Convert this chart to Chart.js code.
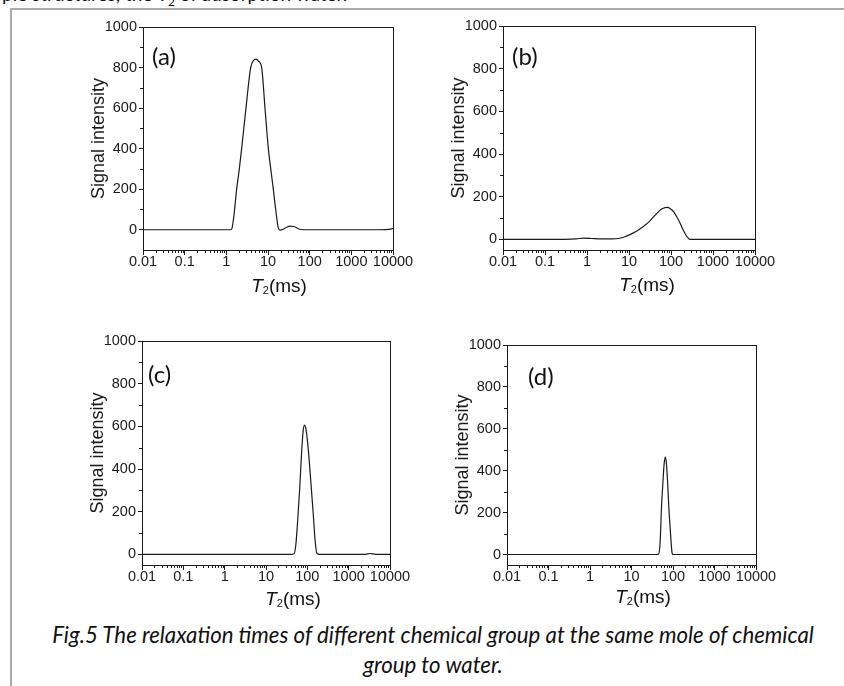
<!DOCTYPE html>
<html>
<head>
<meta charset="utf-8">
<script src="https://cdn.jsdelivr.net/npm/chart.js@4"></script>
<style>
  body { margin: 0; background: #fff; width: 844px; height: 686px; overflow: hidden; position: relative; font-family: "Liberation Sans", Arial, sans-serif; }
  .frame { position: absolute; left: 10px; top: 8px; width: 900px; height: 800px; border-left: 2px solid #ababab; border-top: 2px solid #ababab; }
  .topline { position: absolute; left: 2px; top: -16px; font: 19px Lato, sans-serif; line-height: 20px; white-space: nowrap; color: #111; }
  .topline sub { font-size: 12px; }
  canvas { position: absolute; }
  .tag { position: absolute; font: 24px Lato, sans-serif; color: #111; line-height: 1; transform: translateY(-50%); }
  .xt { position: absolute; font: 19px "Liberation Sans", Arial, sans-serif; color: #111; transform: translate(-50%, -50%); white-space: nowrap; }
  .xt sub { font-size: 11px; vertical-align: baseline; position: relative; top: 2px; }
  .cap { position: absolute; left: 0; width: 866px; top: 620px; text-align: center; font: italic 20px Lato, sans-serif; line-height: 30px; color: #111; }
</style>
</head>
<body>
<div class="frame"></div>
<div class="topline">ple structures, the T<sub>2</sub> of adsorption water.</div>
<div class="cap"><span id="cap1">Fig.5 The relaxation times of different chemical group at the same mole of chemical</span><br>group to water.</div>
<script>
// T2 (ms) vs signal intensity
const t2A = [0.01, 0.1, 0.5, 1, 1.2, 1.34, 1.5, 1.77, 2.05, 2.33, 2.96, 3.84, 4.5, 5.15, 5.9, 7.05, 8.47, 10.2, 11.8, 13.4, 15.5, 17.7, 19.5, 23, 28, 34, 42, 52, 62, 80, 200, 1000, 5000, 8000, 10000];
const sigA = [0, 0, 0, 0, 0, 3, 60, 200, 300, 400, 600, 800, 835, 842, 832, 800, 600, 400, 290, 200, 90, 8, -2, 2, 12, 18, 16, 6, 1, 0, 0, 0, 0, 2, 6];

const t2B = [0.01, 0.3, 0.55, 0.85, 1.3, 2.2, 4, 6, 8, 10.5, 15, 22, 32, 46, 60, 72, 82, 95, 115, 135, 165, 195, 230, 270, 300, 1000, 10000];
const sigB = [0, 0, 2, 6, 4, 2, 2, 5, 12, 22, 38, 60, 88, 122, 142, 149, 150, 145, 130, 108, 75, 44, 18, 2, 0, 0, 0];

const t2C = [0.01, 1, 10, 40, 48, 53, 58, 65, 72, 79, 85, 91, 100, 110, 126, 140, 155, 170, 200, 1000, 2500, 3300, 4500, 10000];
const sigC = [0, 0, 0, 0, 3, 50, 150, 300, 464, 576, 606, 594, 538, 450, 300, 180, 60, 5, 0, 0, 0, 4, 0, 0];

const t2D = [0.01, 1, 10, 40, 45, 49, 53, 57, 61, 65, 69, 74, 79, 85, 90, 95, 100, 1000, 10000];
const sigD = [0, 0, 0, 0, 2, 60, 232, 340, 430, 465, 440, 350, 232, 133, 60, 8, 0, 0, 0];

const xTicks = [0.01, 0.1, 1, 10, 100, 1000, 10000];
const xTickLabels = ['0.01', '0.1', '1', '10', '100', '1000', '10000'];
const yTicks = [0, 200, 400, 600, 800, 1000];
const yMinor = [100, 300, 500, 700, 900];
const yMins = [-100, -50, -50, -50];
const panelTags = ['(a)', '(b)', '(c)', '(d)'];

const ink = '#1a1a1a';
const tickFont = { family: '"Liberation Sans", Arial, sans-serif', size: 14.5 };

// minor ticks + plot frame
const frameAndMinor = {
  id: 'frameAndMinor',
  afterDraw(chart) {
    const { ctx, chartArea: a, scales: { x, y } } = chart;
    ctx.save();
    ctx.strokeStyle = ink;
    ctx.lineWidth = 1;
    ctx.beginPath();
    xTicks.slice(0, -1).forEach(d => {
      for (let k = 2; k < 10; k++) {
        const px = Math.round(x.getPixelForValue(d * k)) + 0.5;
        ctx.moveTo(px, a.bottom);
        ctx.lineTo(px, a.bottom + 3);
      }
    });
    yMinor.forEach(v => {
      const py = Math.round(y.getPixelForValue(v)) + 0.5;
      ctx.moveTo(a.left - 3, py);
      ctx.lineTo(a.left, py);
    });
    ctx.stroke();
    ctx.strokeRect(Math.round(a.left) + 0.5, Math.round(a.top) + 0.5, Math.round(a.right - a.left), Math.round(a.bottom - a.top));
    ctx.restore();
  }
};

function makePanel(i, box, t2, sig) {
  const padL = 80, padT = 12, padR = 30, padB = 50;
  const c = document.createElement('canvas');
  c.width = box.r - box.l + padL + padR;
  c.height = box.b - box.t + padT + padB;
  c.style.left = (box.l - padL) + 'px';
  c.style.top = (box.t - padT) + 'px';
  document.body.appendChild(c);

  new Chart(c, {
    type: 'line',
    data: {
      datasets: [{
        data: t2.map((t, k) => ({ x: t, y: sig[k] })),
        borderColor: ink,
        borderWidth: 1.2,
        pointRadius: 0,
        cubicInterpolationMode: 'monotone',
        fill: false
      }]
    },
    options: {
      responsive: false,
      animation: false,
      events: [],
      layout: { padding: { left: 0, top: padT, right: padR, bottom: 0 } },
      plugins: { legend: { display: false }, tooltip: { enabled: false } },
      scales: {
        x: {
          type: 'logarithmic',
          min: 0.01,
          max: 10000,
          afterBuildTicks: s => { s.ticks = xTicks.map(v => ({ value: v, major: true })); },
          afterFit: s => { s.height = padB; },
          ticks: { callback: (v, k) => xTickLabels[k], font: tickFont, color: ink, padding: -2, maxRotation: 0, autoSkip: false },
          grid: { drawOnChartArea: false, tickLength: 5, tickColor: ink },
          border: { display: false }
        },
        y: {
          min: yMins[i],
          max: 1000,
          afterBuildTicks: s => { s.ticks = yTicks.map(v => ({ value: v })); },
          afterFit: s => { s.width = padL; },
          ticks: { callback: v => String(v), font: tickFont, color: ink, padding: 2 },
          grid: { drawOnChartArea: false, tickLength: 4, tickColor: ink },
          border: { display: false },
          title: {
            display: true,
            text: 'Signal intensity',
            color: ink,
            font: { family: '"Liberation Sans", Arial, sans-serif', size: 18 },
            padding: { top: 25, bottom: 0 }
          }
        }
      }
    },
    plugins: [frameAndMinor]
  });

  const tag = document.createElement('div');
  tag.className = 'tag';
  tag.textContent = panelTags[i];
  tag.style.left = box.tagX + 'px';
  tag.style.top = box.tagY + 'px';
  document.body.appendChild(tag);

  const xt = document.createElement('div');
  xt.className = 'xt';
  xt.innerHTML = '<i>T</i><sub>2</sub>(ms)';
  xt.style.left = box.titleX + 'px';
  xt.style.top = box.titleY + 'px';
  document.body.appendChild(xt);
}

makePanel(0, { l: 143, t: 27, r: 393, b: 250, tagX: 152, tagY: 56, titleX: 279, titleY: 286 }, t2A, sigA);
makePanel(1, { l: 503, t: 26, r: 755, b: 250, tagX: 512, tagY: 56, titleX: 647, titleY: 285 }, t2B, sigB);
makePanel(2, { l: 142, t: 341, r: 390, b: 565, tagX: 148, tagY: 374, titleX: 293, titleY: 599 }, t2C, sigC);
makePanel(3, { l: 507, t: 345, r: 756, b: 565, tagX: 528, tagY: 376, titleX: 643, titleY: 597 }, t2D, sigD);

// fit caption line 1 to its width in the figure
const cap1 = document.getElementById('cap1');
const capBox = document.querySelector('.cap');
capBox.style.fontSize = (20 * 762 / cap1.offsetWidth).toFixed(2) + 'px';
</script>
</body>
</html>
